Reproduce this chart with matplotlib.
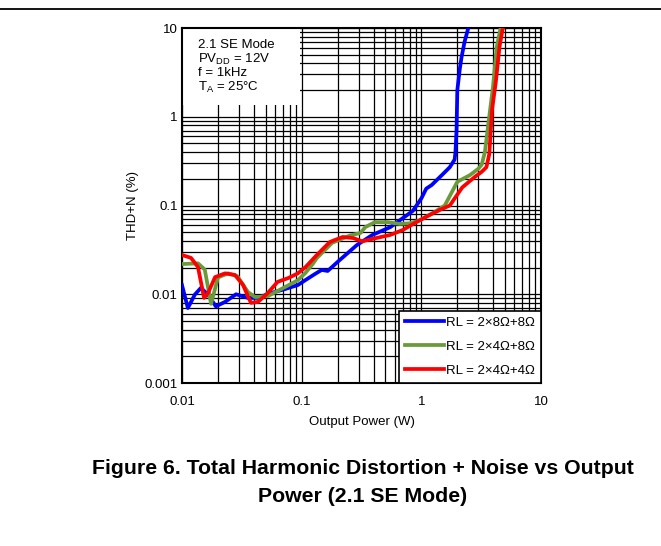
import matplotlib
matplotlib.use('Agg')
import matplotlib.pyplot as plt
from matplotlib.patches import Rectangle
from matplotlib.lines import Line2D

plt.rcParams['font.family'] = ['Liberation Sans', 'DejaVu Sans']
plt.rcParams['mathtext.fontset'] = 'custom'
plt.rcParams['mathtext.rm'] = 'Liberation Sans'

# RL = 2x8+8
p_blue = [0.01, 0.0112, 0.0128, 0.0144, 0.0165, 0.0192, 0.0229, 0.0283, 0.0356, 0.043,
          0.055, 0.072, 0.093, 0.108, 0.13, 0.147, 0.165, 0.208, 0.29, 0.39,
          0.55, 0.70, 0.85, 1.0, 1.1, 1.22, 1.49, 1.73, 1.9, 1.93,
          1.97, 2.0, 2.1, 2.17, 2.3, 2.47]
thd_blue = [0.0127, 0.0070, 0.0099, 0.0118, 0.0099, 0.0073, 0.0082, 0.0100, 0.0091, 0.0091,
            0.0103, 0.0114, 0.0127, 0.0145, 0.0170, 0.0188, 0.0183, 0.0243, 0.0359, 0.0466,
            0.057, 0.072, 0.087, 0.12, 0.155, 0.170, 0.221, 0.27, 0.33, 0.40,
            0.71, 2.0, 3.5, 4.7, 7.0, 10.0]

# RL = 2x4+8
p_green = [0.01, 0.0136, 0.0155, 0.0175, 0.02, 0.0243, 0.029, 0.0356, 0.0408, 0.052,
           0.072, 0.093, 0.108, 0.124, 0.134, 0.18, 0.254, 0.31, 0.34, 0.41,
           0.52, 0.66, 0.80, 0.97, 1.3, 1.57, 2.0, 2.55, 3.0, 3.2,
           3.4, 3.64, 3.97, 4.27, 4.6]
thd_green = [0.0219, 0.0223, 0.019, 0.0078, 0.0155, 0.0172, 0.0160, 0.0106, 0.0093, 0.0095,
             0.0120, 0.0144, 0.0175, 0.022, 0.0256, 0.038, 0.046, 0.049, 0.057, 0.065,
             0.065, 0.062, 0.063, 0.068, 0.085, 0.10, 0.185, 0.22, 0.26, 0.29,
             0.40, 0.85, 2.16, 6.1, 10.0]

# RL = 2x4+4
p_red = [0.01, 0.0119, 0.0136, 0.0153, 0.0165, 0.0189, 0.0229, 0.0277, 0.0323, 0.0377,
         0.0432, 0.052, 0.063, 0.077, 0.093, 0.108, 0.134, 0.172, 0.22, 0.27,
         0.32, 0.42, 0.55, 0.70, 0.91, 1.17, 1.45, 1.73, 2.2, 2.8,
         3.2, 3.5, 3.7, 3.9, 4.2, 4.5, 4.8]
thd_red = [0.0277, 0.0257, 0.0203, 0.0091, 0.0103, 0.0156, 0.0172, 0.0165, 0.0128, 0.0080,
           0.0082, 0.0103, 0.0138, 0.0152, 0.0172, 0.0203, 0.0277, 0.0388, 0.0442, 0.043,
           0.0395, 0.043, 0.0466, 0.053, 0.065, 0.078, 0.09, 0.10, 0.16, 0.21,
           0.24, 0.27, 0.38, 1.2, 2.5, 6.1, 10.0]

labels = ['RL = 2×8Ω+8Ω', 'RL = 2×4Ω+8Ω', 'RL = 2×4Ω+4Ω']
colors = ['#0000ff', '#6b9a3a', '#ff0000']

fs = 9.5

fig = plt.figure(figsize=(6.61, 5.46), dpi=100)
ax = fig.add_axes([0.2753, 0.2985, 0.5431, 0.6502])

ax.plot(p_blue, thd_blue, color=colors[0], lw=2.7, label=labels[0], zorder=3)
ax.plot(p_green, thd_green, color=colors[1], lw=2.7, label=labels[1], zorder=3)
ax.plot(p_red, thd_red, color=colors[2], lw=2.7, label=labels[2], zorder=3)

ax.set_xscale('log')
ax.set_yscale('log')
ax.set_xlim(0.01, 10)
ax.set_ylim(0.001, 10)
ax.set_axisbelow(True)
ax.grid(True, which='both', color='black', lw=0.9)
ax.set_xticks([0.01, 0.1, 1, 10])
ax.set_xticklabels(['0.01', '0.1', '1', '10'])
ax.set_yticks([0.001, 0.01, 0.1, 1, 10])
ax.set_yticklabels(['0.001', '0.01', '0.1', '1', '10'])
ax.tick_params(which='both', direction='in', length=0, labelsize=fs)
ax.tick_params(axis='x', pad=9)
ax.tick_params(axis='y', pad=3)
for s in ax.spines.values():
    s.set_linewidth(1.5)

ax.set_xlabel('Output Power (W)', fontsize=fs, labelpad=6)
ax.set_ylabel('THD+N (%)', fontsize=fs, labelpad=4)

# white box behind the conditions text
ax.add_patch(Rectangle((0, 0.783), 0.329, 0.217, transform=ax.transAxes,
                       facecolor='white', edgecolor='none', zorder=2))
cond = ['2.1 SE Mode', r'PV$_{\mathregular{DD}}$ = 12V', 'f = 1kHz', r'T$_{\mathregular{A}}$ = 25°C']
for i, t in enumerate(cond):
    ax.text(0.045, 0.952 - i * 0.04, t, transform=ax.transAxes, fontsize=fs,
            va='center', ha='left', zorder=4)

leg = ax.legend(loc='lower right', fontsize=fs, frameon=True, fancybox=False,
                edgecolor='black', framealpha=1, borderaxespad=0, handlelength=2.95,
                handletextpad=0.15, labelspacing=0.9, borderpad=0.45)
leg.get_frame().set_linewidth(1.2)
leg.set_zorder(5)

fig.add_artist(Line2D([0, 1], [1 - 9 / 546, 1 - 9 / 546], color='black', lw=1.3))

fig.text(363 / 661, 1 - 468 / 546, 'Figure 6. Total Harmonic Distortion + Noise vs Output',
         ha='center', va='center', fontsize=15.3, fontweight='bold')
fig.text(363 / 661, 1 - 497 / 546, 'Power (2.1 SE Mode)',
         ha='center', va='center', fontsize=15.3, fontweight='bold')

fig.savefig('out.png', dpi=100)
